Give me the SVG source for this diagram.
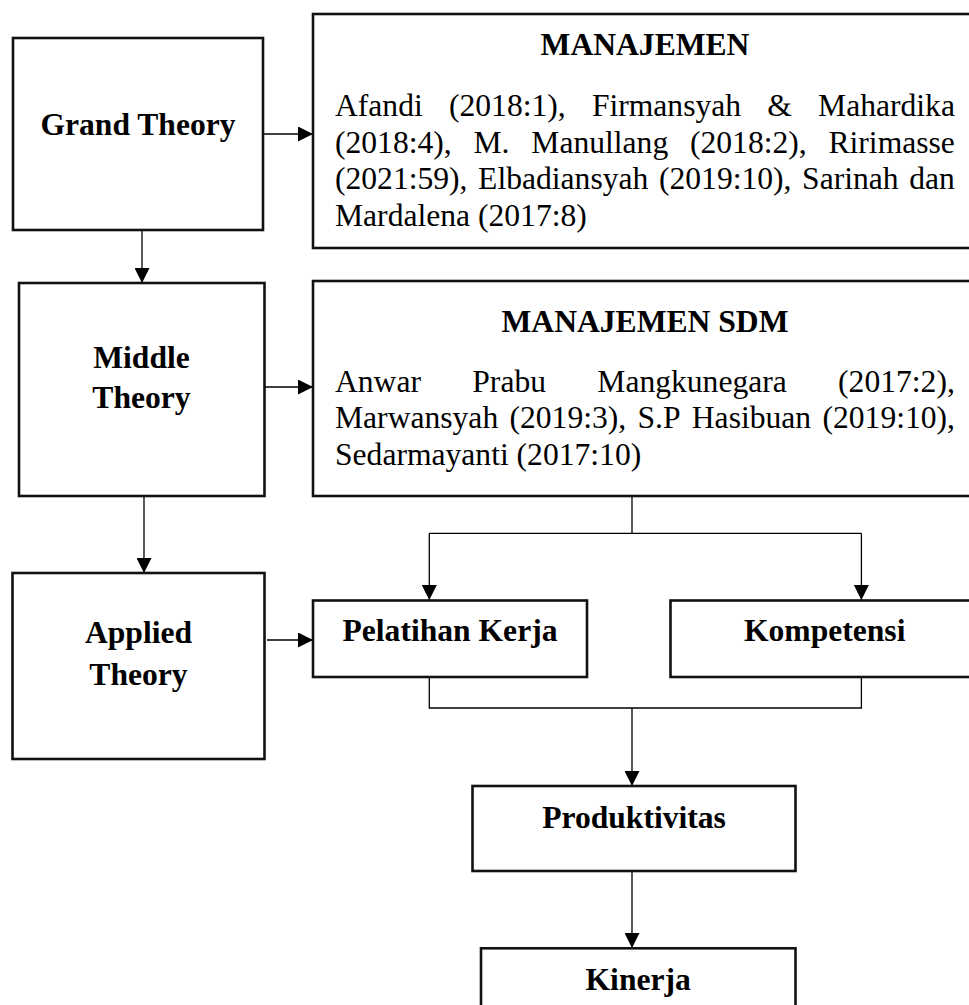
<svg xmlns="http://www.w3.org/2000/svg" width="969" height="1005" viewBox="0 0 969 1005">
<style>
.box{fill:#fff;stroke:#111;stroke-width:2.6}
.lbl{font-family:"Liberation Serif","Times New Roman",serif;font-weight:bold;font-size:31.6px;fill:#000;text-anchor:middle}
.body{font-family:"Liberation Serif","Times New Roman",serif;font-size:31.6px;fill:#000}
.con{fill:none;stroke:#000;stroke-width:1.3}
</style>
<defs>
<marker id="ah" markerUnits="userSpaceOnUse" markerWidth="15" markerHeight="15" refX="15" refY="7.5" orient="auto">
<path d="M0,0 L15,7.5 L0,15 z" fill="#000"/>
</marker>
</defs>
<rect width="969" height="1005" fill="#fff"/>

<g id="connectors">
<line class="con" x1="263" y1="134" x2="313" y2="134" marker-end="url(#ah)"/>
<line class="con" x1="142" y1="231" x2="142" y2="283" marker-end="url(#ah)"/>
<line class="con" x1="264" y1="387" x2="313" y2="387" marker-end="url(#ah)"/>
<line class="con" x1="144" y1="496" x2="144" y2="573" marker-end="url(#ah)"/>
<line class="con" x1="267" y1="640" x2="313" y2="640" marker-end="url(#ah)"/>
<polyline class="con" points="632,496 632,533.3"/>
<polyline class="con" points="429.3,533.3 861.4,533.3"/>
<line class="con" x1="429.3" y1="533.3" x2="429.3" y2="600" marker-end="url(#ah)"/>
<line class="con" x1="861.4" y1="533.3" x2="861.4" y2="600" marker-end="url(#ah)"/>
<polyline class="con" points="429.3,677 429.3,708 861.4,708 861.4,677"/>
<line class="con" x1="632" y1="708" x2="632" y2="786" marker-end="url(#ah)"/>
<line class="con" x1="632" y1="871" x2="632" y2="948" marker-end="url(#ah)"/>
</g>

<g id="grand-theory">
<rect class="box" x="13" y="38" width="250" height="192"/>
<text class="lbl" x="138" y="135">Grand Theory</text>
</g>

<g id="manajemen">
<rect class="box" x="313" y="14" width="665" height="234"/>
<text class="lbl" x="645" y="55">MANAJEMEN</text>
<text class="body" y="116"><tspan x="335">Afandi</tspan><tspan x="449">(2018:1),</tspan><tspan x="591.9">Firmansyah</tspan><tspan x="767.3">&amp;</tspan><tspan x="818.1">Mahardika</tspan></text>
<text class="body" y="152.5"><tspan x="335">(2018:4),</tspan><tspan x="473.5">M.</tspan><tspan x="531.3">Manullang</tspan><tspan x="690">(2018:2),</tspan><tspan x="828.5">Ririmasse</tspan></text>
<text class="body" y="189"><tspan x="335">(2021:59),</tspan><tspan x="478.1">Elbadiansyah</tspan><tspan x="659">(2019:10),</tspan><tspan x="802.1">Sarinah</tspan><tspan x="909.2">dan</tspan></text>
<text class="body" x="335" y="225.5">Mardalena (2017:8)</text>
</g>

<g id="middle-theory">
<rect class="box" x="19" y="283" width="245.5" height="213"/>
<text class="lbl" x="141.5" y="368.3">Middle</text>
<text class="lbl" x="141.5" y="408.3">Theory</text>
</g>

<g id="manajemen-sdm">
<rect class="box" x="313" y="281" width="665" height="215"/>
<text class="lbl" x="645" y="331.7">MANAJEMEN SDM</text>
<text class="body" y="391.7"><tspan x="335">Anwar</tspan><tspan x="472.3">Prabu</tspan><tspan x="597.3">Mangkunegara</tspan><tspan x="838.1">(2017:2),</tspan></text>
<text class="body" y="428.3"><tspan x="335">Marwansyah</tspan><tspan x="509.5">(2019:3),</tspan><tspan x="637.5">S.P</tspan><tspan x="691.8">Hasibuan</tspan><tspan x="822.5">(2019:10),</tspan></text>
<text class="body" x="335" y="465">Sedarmayanti (2017:10)</text>
</g>

<g id="applied-theory">
<rect class="box" x="12.5" y="573" width="252" height="186"/>
<text class="lbl" x="138.5" y="643.3">Applied</text>
<text class="lbl" x="138.5" y="685">Theory</text>
</g>

<g id="pelatihan-kerja">
<rect class="box" x="313" y="600.5" width="274" height="76.5"/>
<text class="lbl" x="450" y="640.7">Pelatihan Kerja</text>
</g>

<g id="kompetensi">
<rect class="box" x="670.5" y="600.5" width="308" height="76.5"/>
<text class="lbl" x="824.7" y="640.7">Kompetensi</text>
</g>

<g id="produktivitas">
<rect class="box" x="472.5" y="786" width="323" height="85"/>
<text class="lbl" x="634" y="828.3">Produktivitas</text>
</g>

<g id="kinerja">
<rect class="box" x="481" y="948.3" width="314.5" height="70"/>
<text class="lbl" x="638.2" y="990">Kinerja</text>
</g>
</svg>
